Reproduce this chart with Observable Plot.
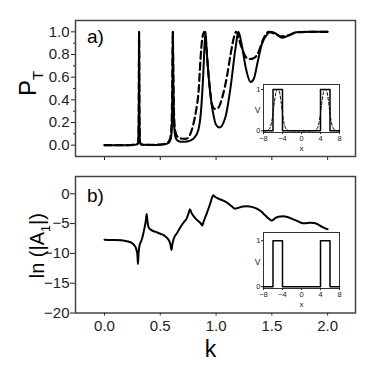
<!DOCTYPE html>
<html><head><meta charset="utf-8">
<script src="https://cdn.jsdelivr.net/npm/d3@7"></script>
<script src="https://cdn.jsdelivr.net/npm/@observablehq/plot@0.6"></script>
<style>
html,body{margin:0;padding:0;background:#fff;}
#fig{position:relative;width:374px;height:383px;overflow:hidden;}
#fig svg{position:absolute;left:0;top:0;}
</style></head><body><div id="fig"></div>
<script>
// ---- tick values ----
const kTicks = [0, 0.5, 1.0, 1.5, 2.0];
const pTicks = [0, 0.2, 0.4, 0.6, 0.8, 1.0];
const pMinorTicks = [0.1, 0.3, 0.5, 0.7, 0.9];
const lnTicks = [0, -5, -10, -15, -20];
const xInsetTicks = [-8, -4, 0, 4, 8];
const vInsetTicks = [0, 1];

// ---- panel a: transmission probability ----
const kSolid = [0, 0.20, 0.27, 0.295, 0.303, 0.307, 0.310, 0.313, 0.317, 0.325, 0.35, 0.42, 0.50, 0.55, 0.58, 0.595, 0.603, 0.609, 0.613, 0.617, 0.623, 0.632, 0.645, 0.665, 0.70, 0.75, 0.80, 0.84, 0.865, 0.885, 0.898, 0.906, 0.915, 0.93, 0.95, 0.98, 1.0, 1.03, 1.085, 1.13, 1.175, 1.20, 1.235, 1.265, 1.31, 1.34, 1.37, 1.41, 1.46, 1.49, 1.55, 1.59, 1.65, 1.72, 1.85, 2.0];
const pSolid = [0, 0, 0.003, 0.01, 0.04, 0.25, 1.0, 0.25, 0.04, 0.01, 0.003, 0.002, 0.004, 0.01, 0.025, 0.06, 0.15, 0.5, 1.0, 0.55, 0.2, 0.09, 0.05, 0.035, 0.03, 0.035, 0.06, 0.13, 0.3, 0.62, 0.9, 1.0, 0.85, 0.65, 0.44, 0.25, 0.18, 0.155, 0.25, 0.51, 0.86, 1.0, 0.86, 0.69, 0.557, 0.59, 0.72, 0.89, 0.98, 1.0, 0.976, 0.947, 0.967, 0.997, 1.0, 1.0];
const kDashed = [0, 0.20, 0.27, 0.295, 0.303, 0.307, 0.310, 0.313, 0.317, 0.325, 0.35, 0.42, 0.50, 0.55, 0.578, 0.593, 0.602, 0.608, 0.612, 0.617, 0.624, 0.635, 0.65, 0.68, 0.72, 0.75, 0.77, 0.80, 0.82, 0.846, 0.86, 0.875, 0.895, 0.91, 0.93, 0.95, 0.966, 0.99, 1.02, 1.055, 1.10, 1.13, 1.16, 1.18, 1.22, 1.265, 1.30, 1.34, 1.37, 1.43, 1.47, 1.52, 1.58, 1.65, 1.72, 1.85, 2.0];
const pDashed = [0, 0, 0.003, 0.01, 0.04, 0.25, 1.0, 0.25, 0.04, 0.01, 0.003, 0.003, 0.006, 0.015, 0.035, 0.08, 0.2, 0.55, 1.0, 0.6, 0.25, 0.12, 0.08, 0.06, 0.055, 0.065, 0.1, 0.2, 0.3, 0.51, 0.75, 0.93, 1.0, 0.9, 0.65, 0.45, 0.35, 0.32, 0.33, 0.42, 0.62, 0.8, 0.95, 1.0, 0.89, 0.78, 0.76, 0.77, 0.8, 0.95, 1.0, 0.985, 0.96, 0.97, 0.995, 1.0, 1.0];

// ---- panel b: ln(|A1|) ----
const kB = [0, 0.05, 0.10, 0.15, 0.20, 0.24, 0.27, 0.285, 0.295, 0.300, 0.305, 0.315, 0.33, 0.345, 0.36, 0.372, 0.378, 0.385, 0.395, 0.42, 0.46, 0.50, 0.53, 0.56, 0.58, 0.592, 0.600, 0.608, 0.62, 0.65, 0.68, 0.71, 0.735, 0.755, 0.766, 0.78, 0.80, 0.83, 0.86, 0.876, 0.89, 0.91, 0.93, 0.95, 0.965, 0.975, 0.99, 1.02, 1.06, 1.10, 1.14, 1.17, 1.20, 1.24, 1.28, 1.32, 1.36, 1.40, 1.44, 1.475, 1.50, 1.53, 1.56, 1.60, 1.64, 1.68, 1.72, 1.76, 1.80, 1.84, 1.88, 1.92, 1.95, 1.98, 2.0];
const lnA = [-7.7, -7.75, -7.75, -7.8, -7.95, -8.2, -8.7, -9.3, -10.3, -11.8, -10.0, -8.6, -7.9, -6.9, -5.6, -4.3, -3.4, -4.6, -5.6, -6.1, -6.4, -6.7, -6.95, -7.4, -7.9, -8.6, -9.4, -8.5, -7.6, -6.6, -5.6, -4.8, -4.2, -3.2, -2.6, -3.2, -3.8, -4.4, -4.9, -5.3, -4.6, -3.6, -2.6, -1.5, -0.6, -0.25, -0.5, -0.8, -1.1, -1.5, -2.1, -2.5, -2.35, -2.15, -2.1, -2.2, -2.45, -2.9, -3.6, -4.2, -4.5, -4.1, -3.85, -3.75, -3.9, -4.2, -4.5, -4.85, -4.95, -4.85, -4.9, -5.2, -5.55, -5.8, -5.95];

// ---- insets: potential V(x) ----
const xBarrier = [-8, -6, -6, -4, -4, 4, 4, 6, 6, 8];
const vBarrier = [0, 0, 1, 1, 0, 0, 1, 1, 0, 0];
const xSmooth = [-8, -7.5, -7, -6.6, -6.3, -6, -5.7, -5.4, -5.2, -5, -4.8, -4.6, -4.3, -4, -3.7, -3.4, -3, -2.5, -2, 2, 2.5, 3, 3.4, 3.7, 4, 4.3, 4.6, 4.8, 5, 5.2, 5.4, 5.7, 6, 6.3, 6.6, 7, 7.5, 8];
const vSmooth = [0, 0.003, 0.02, 0.08, 0.2, 0.42, 0.7, 0.92, 0.99, 1, 0.99, 0.92, 0.7, 0.42, 0.2, 0.08, 0.02, 0.003, 0, 0, 0.003, 0.02, 0.08, 0.2, 0.42, 0.7, 0.92, 0.99, 1, 0.99, 0.92, 0.7, 0.42, 0.2, 0.08, 0.02, 0.003, 0];

const zip = (xs, ys) => xs.map((x, i) => ({x, y: ys[i]}));
const FONT = "'Liberation Sans', Arial, Helvetica, sans-serif";
const W = 374, H = 383;
const INK = "#222";
const baseStyle = {background: "transparent", fontFamily: FONT, fontSize: "15px", color: INK, overflow: "visible"};

function subLabel(svg, full, base, sub, tail, size) {
  const ns = "http://www.w3.org/2000/svg";
  svg.querySelectorAll("text").forEach(t => {
    if (t.textContent === full) {
      t.textContent = "";
      const a = document.createElementNS(ns, "tspan"); a.textContent = base; t.appendChild(a);
      const b = document.createElementNS(ns, "tspan"); b.textContent = sub;
      b.setAttribute("font-size", (size * 0.62) + "px"); b.setAttribute("dy", (size * 0.3) + "px"); t.appendChild(b);
      if (tail) {
        const c = document.createElementNS(ns, "tspan"); c.textContent = tail;
        c.setAttribute("dy", (-size * 0.3) + "px"); t.appendChild(c);
      }
    }
  });
}

// Panel a
const panelA = Plot.plot({
  width: W, height: H,
  marginLeft: 75, marginRight: 19, marginTop: 20, marginBottom: 227,
  style: baseStyle,
  x: {domain: [-0.26, 2.25], axis: null},
  y: {domain: [-0.1, 1.1], axis: null},
  marks: [
    Plot.axisY({ticks: pTicks, tickSize: 4, tickPadding: 2, tickFormat: d3.format(".1f"), label: null, color: INK}),
    Plot.axisY({ticks: pMinorTicks, tickSize: 2, tickFormat: () => "", label: null, color: INK}),
    Plot.axisX({ticks: kTicks, tickSize: 4, tickFormat: () => "", label: null, color: INK}),
    Plot.line(zip(kDashed, pDashed), {x: "x", y: "y", stroke: "#000", strokeWidth: 2.2, strokeDasharray: "7,4", curve: "monotone-x"}),
    Plot.line(zip(kSolid, pSolid), {x: "x", y: "y", stroke: "#000", strokeWidth: 2, curve: "monotone-x"}),
    Plot.frame({stroke: "#444", strokeWidth: 1.5}),
    Plot.text(["a)"], {frameAnchor: "top-left", textAnchor: "start", lineAnchor: "middle", dx: 11.5, dy: 16.5, fontSize: 19, fill: "#000"}),
    Plot.text(["PT"], {frameAnchor: "left", textAnchor: "middle", lineAnchor: "middle", rotate: -90, dx: -47, dy: -5, fontSize: 24, fill: "#000"})
  ]
});
subLabel(panelA, "PT", "P", "T", null, 24);

// Panel b
const panelB = Plot.plot({
  width: W, height: H,
  marginLeft: 75, marginRight: 19, marginTop: 176, marginBottom: 70.5,
  style: baseStyle,
  x: {domain: [-0.26, 2.25], axis: null},
  y: {domain: [-20, 2.9], axis: null},
  marks: [
    Plot.axisY({ticks: lnTicks, tickSize: 5, tickPadding: 1, label: null, color: INK}),
    Plot.axisX({ticks: kTicks, tickSize: 3, tickPadding: 4, tickFormat: d3.format(".1f"), label: null, color: INK}),
    Plot.line(zip(kB, lnA), {x: "x", y: "y", stroke: "#000", strokeWidth: 2, curve: "monotone-x"}),
    Plot.frame({stroke: "#444", strokeWidth: 1.5}),
    Plot.text(["b)"], {frameAnchor: "top-left", textAnchor: "start", lineAnchor: "middle", dx: 11.5, dy: 19, fontSize: 19, fill: "#000"}),
    Plot.text(["lnA1"], {frameAnchor: "left", textAnchor: "middle", lineAnchor: "middle", rotate: -90, dx: -38, dy: 1, fontSize: 20, fill: "#000"}),
    Plot.text(["k"], {frameAnchor: "bottom", textAnchor: "middle", lineAnchor: "middle", dx: -5, dy: 37, fontSize: 23, fill: "#000"})
  ]
});
subLabel(panelB, "lnA1", "ln (|A", "1", "|)", 20);

function inset(top, bottom, yDomain, showDashed) {
  return Plot.plot({
    width: W, height: H,
    marginLeft: 263, marginRight: 35, marginTop: top, marginBottom: H - bottom,
    style: {...baseStyle, fontSize: "7.5px"},
    x: {domain: [-8, 8], axis: null},
    y: {domain: yDomain, axis: null},
    marks: [
      Plot.frame({fill: "white", stroke: "#333", strokeWidth: 1}),
      Plot.axisX({ticks: xInsetTicks, tickSize: 2, tickPadding: 1, tickFormat: d3.format("d"), label: null, color: INK}),
      Plot.axisY({ticks: vInsetTicks, tickSize: 2, tickPadding: 1, tickFormat: d3.format("d"), label: null, color: INK}),
      showDashed ? Plot.line(zip(xSmooth, vSmooth), {x: "x", y: "y", stroke: "#000", strokeWidth: 1, strokeDasharray: "3,2", curve: "monotone-x"}) : null,
      Plot.line(zip(xBarrier, vBarrier), {x: "x", y: "y", stroke: "#000", strokeWidth: 1.5}),
      Plot.text(["V"], {frameAnchor: "left", textAnchor: "middle", lineAnchor: "middle", dx: -6, dy: 2, fontSize: 8.5, fill: INK}),
      Plot.text(["x"], {x: [0], frameAnchor: "bottom", textAnchor: "middle", lineAnchor: "middle", dy: 16, fontSize: 8, fill: INK})
    ]
  });
}
const insetA = inset(84, 132, [-0.04, 1.12], true);
const insetB = inset(232, 288, [-0.04, 1.18], false);

const fig = document.getElementById("fig");
[panelA, panelB, insetA, insetB].forEach(s => fig.appendChild(s));
</script>
</body></html>
